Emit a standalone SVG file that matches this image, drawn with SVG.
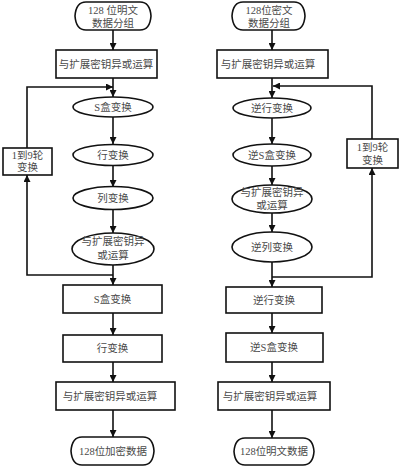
<svg xmlns="http://www.w3.org/2000/svg" width="400" height="468" viewBox="0 0 400 468">
<defs>
<style>
.s{fill:#fff;stroke:#111;stroke-width:1.6}
.c{fill:none;stroke:#111;stroke-width:1.6}
text{font-family:"Liberation Serif","Noto Sans CJK SC",serif;font-size:10.5px;fill:#4a4a4a;text-anchor:middle}
</style>
<marker id="ah" viewBox="0 0 10 10" refX="10" refY="5" markerWidth="7" markerHeight="7" markerUnits="userSpaceOnUse" orient="auto">
<path d="M0,0 L10,5 L0,10 Z" fill="#111"/>
</marker>
</defs>
<rect width="400" height="468" fill="#fff"/>
<g id="connectors">
<line class="c" x1="113" y1="30" x2="113" y2="50" marker-end="url(#ah)"/>
<line class="c" x1="113" y1="78" x2="113" y2="97" marker-end="url(#ah)"/>
<polyline class="c" points="27,148 27,87 113,87" marker-end="url(#ah)"/>
<line class="c" x1="113" y1="117" x2="113" y2="144" marker-end="url(#ah)"/>
<line class="c" x1="113" y1="165" x2="113" y2="187" marker-end="url(#ah)"/>
<line class="c" x1="113" y1="210" x2="113" y2="233" marker-end="url(#ah)"/>
<line class="c" x1="113" y1="265" x2="113" y2="285" marker-end="url(#ah)"/>
<polyline class="c" points="113,275 27,275 27,175" marker-end="url(#ah)"/>
<line class="c" x1="113" y1="313" x2="113" y2="335" marker-end="url(#ah)"/>
<line class="c" x1="113" y1="362" x2="113" y2="382" marker-end="url(#ah)"/>
<line class="c" x1="113" y1="410" x2="113" y2="437" marker-end="url(#ah)"/>
<line class="c" x1="272" y1="30" x2="272" y2="50" marker-end="url(#ah)"/>
<line class="c" x1="272" y1="78" x2="272" y2="98" marker-end="url(#ah)"/>
<polyline class="c" points="372,139 372,86 273,86" marker-end="url(#ah)"/>
<line class="c" x1="272" y1="118" x2="272" y2="144" marker-end="url(#ah)"/>
<line class="c" x1="272" y1="166" x2="272" y2="185" marker-end="url(#ah)"/>
<line class="c" x1="272" y1="213" x2="272" y2="232" marker-end="url(#ah)"/>
<line class="c" x1="272" y1="262" x2="272" y2="287" marker-end="url(#ah)"/>
<polyline class="c" points="272,277 372,277 372,168" marker-end="url(#ah)"/>
<line class="c" x1="272" y1="313" x2="272" y2="333" marker-end="url(#ah)"/>
<line class="c" x1="272" y1="362" x2="272" y2="382" marker-end="url(#ah)"/>
<line class="c" x1="272" y1="410" x2="272" y2="438" marker-end="url(#ah)"/>
</g>
<g id="L-start"><path class="s" d="M86,2 H140 Q150,2 151,16 Q150,30 140,30 H86 Q76,30 75,16 Q76,2 86,2 Z"/><text x="113" y="14">128 位明文</text><text x="113" y="27">数据分组</text></g>
<g id="L-xor1"><rect class="s" x="56" y="50" width="101" height="28"/><text x="106" y="68">与扩展密钥异或运算</text></g>
<g id="L-sbox"><ellipse class="s" cx="113" cy="107" rx="40" ry="10"/><text x="113" y="111">S盒变换</text></g>
<g id="L-row"><ellipse class="s" cx="113" cy="155" rx="40" ry="10.5"/><text x="113" y="159">行变换</text></g>
<g id="L-col"><ellipse class="s" cx="113" cy="198" rx="40" ry="11.5"/><text x="113" y="202">列变换</text></g>
<g id="L-xor2"><ellipse class="s" cx="113" cy="249" rx="41" ry="16"/><text x="113" y="245">与扩展密钥异</text><text x="113" y="259">或运算</text></g>
<g id="L-loop"><rect class="s" x="3" y="148" width="49" height="27"/><text x="27.5" y="159">1到9轮</text><text x="27.5" y="171">变换</text></g>
<g id="L-sbox2"><rect class="s" x="63" y="285" width="99" height="28"/><text x="112.5" y="303">S盒变换</text></g>
<g id="L-row2"><rect class="s" x="63" y="335" width="99" height="27"/><text x="112.5" y="352">行变换</text></g>
<g id="L-xor3"><rect class="s" x="56" y="382" width="119" height="28"/><text x="110" y="400">与扩展密钥异或运算</text></g>
<g id="L-end"><path class="s" d="M82,437 H143 Q153,437 154,451 Q153,465 143,465 H82 Q72,465 71,451 Q72,437 82,437 Z"/><text x="113" y="455">128位加密数据</text></g>
<g id="R-start"><path class="s" d="M243,2 H294 Q304,2 305,16 Q304,30 294,30 H243 Q233,30 232,16 Q233,2 243,2 Z"/><text x="269" y="14">128位密文</text><text x="269" y="27">数据分组</text></g>
<g id="R-xor1"><rect class="s" x="217" y="50" width="111" height="28"/><text x="268" y="68">与扩展密钥异或运算</text></g>
<g id="R-invrow"><ellipse class="s" cx="272" cy="108" rx="39" ry="10"/><text x="272" y="112">逆行变换</text></g>
<g id="R-invsbox"><ellipse class="s" cx="272" cy="155" rx="39" ry="11"/><text x="272" y="159">逆S盒变换</text></g>
<g id="R-xor2"><ellipse class="s" cx="272" cy="199" rx="40" ry="14"/><text x="272" y="196">与扩展密钥异</text><text x="272" y="209">或运算</text></g>
<g id="R-invcol"><ellipse class="s" cx="272" cy="247" rx="40" ry="15"/><text x="272" y="251">逆列变换</text></g>
<g id="R-loop"><rect class="s" x="347" y="139" width="51" height="29"/><text x="372.5" y="151">1到9轮</text><text x="372.5" y="164">变换</text></g>
<g id="R-invrow2"><rect class="s" x="226" y="287" width="96" height="26"/><text x="274" y="304">逆行变换</text></g>
<g id="R-invsbox2"><rect class="s" x="226" y="333" width="97" height="29"/><text x="274" y="351">逆S盒变换</text></g>
<g id="R-xor3"><rect class="s" x="218" y="382" width="112" height="28"/><text x="270" y="400">与扩展密钥异或运算</text></g>
<g id="R-end"><path class="s" d="M245,438 H303 Q313,438 314,451.5 Q313,465 303,465 H245 Q235,465 234,451.5 Q235,438 245,438 Z"/><text x="274" y="455">128位明文数据</text></g>
</svg>
